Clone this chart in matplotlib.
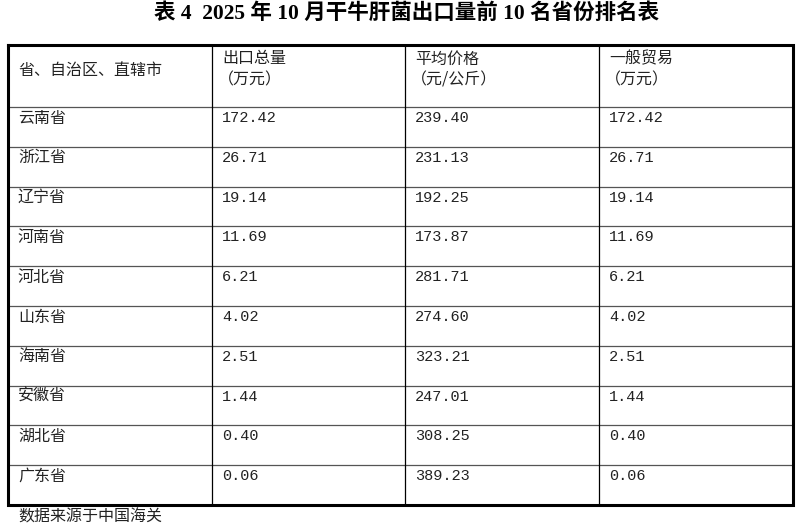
import matplotlib.pyplot as plt

plt.rcParams['font.family'] = ['Noto Sans CJK SC', 'DejaVu Sans']

# 数据
titulo = '表 4  2025 年 10 月干牛肝菌出口量前 10 名省份排名表'
cabecalhos = ['省、自治区、直辖市', '出口总量\n（万元）', '平均价格\n（元/公斤）', '一般贸易\n（万元）']
provincias = ['云南省', '浙江省', '辽宁省', '河南省', '河北省', '山东省', '海南省', '安徽省', '湖北省', '广东省']
total = ['172.42', '26.71', '19.14', '11.69', '6.21', '4.02', '2.51', '1.44', '0.40', '0.06']
preco = ['239.40', '231.13', '192.25', '173.87', '281.71', '274.60', '323.21', '247.01', '308.25', '389.23']
comercio = ['172.42', '26.71', '19.14', '11.69', '6.21', '4.02', '2.51', '1.44', '0.40', '0.06']
fonte = '数据来源于中国海关'

# Geometria da tabela (pixels)
W, H = 801, 527
x_cols = [8, 212, 405, 599, 793]
y_topo, y_cab = 45, 107
alt_linha = (505 - y_cab) / len(provincias)

fonte_cjk = ['Noto Sans CJK SC', 'DejaVu Sans']
fonte_num = ['Liberation Mono', 'Noto Sans CJK SC']
tam = 11.5

fig = plt.figure(figsize=(W / 100, H / 100), dpi=100)
ax = fig.add_axes([0, 0, 1, 1])
ax.set_xlim(0, W)
ax.set_ylim(H, 0)
ax.axis('off')

y_linhas = [y_cab + i * alt_linha for i in range(len(provincias) + 1)]
y_fim = y_linhas[-1]

# Linhas internas
for y in y_linhas[:-1]:
    ax.plot([x_cols[0], x_cols[-1]], [y, y], color='#555555', lw=0.9)
for x in x_cols[1:-1]:
    ax.plot([x, x], [y_topo, y_fim], color='black', lw=0.9)
# Moldura externa
ax.plot([x_cols[0], x_cols[-1], x_cols[-1], x_cols[0], x_cols[0]],
        [y_topo, y_topo, y_fim, y_fim, y_topo], color='black', lw=2.2,
        solid_joinstyle='miter')

# Título
ax.text(W / 2 + 6, 14, titulo, ha='center', va='center', fontsize=15.5,
        fontweight='bold', family=['Liberation Serif', 'Noto Sans CJK SC'])

# Cabeçalho
for i, txt in enumerate(cabecalhos):
    if i == 0:
        ax.text(x_cols[i] + 10, 70, txt, ha='left', va='center', fontsize=tam,
                family=fonte_cjk, color='#222222')
    else:
        l1, l2 = txt.split('\n')
        ax.text(x_cols[i] + 10, 59, l1, ha='left', va='center', fontsize=tam,
                family=fonte_cjk, color='#222222')
        ax.text(x_cols[i] + 6, 80, l2, ha='left', va='center', fontsize=tam,
                family=fonte_cjk, color='#222222')

# Linhas de dados
for j in range(len(provincias)):
    y = y_linhas[j] + 11
    ax.text(x_cols[0] + 10, y, provincias[j], ha='left', va='center',
            fontsize=tam, family=fonte_cjk, color='#222222')
    for i, v in enumerate([total[j], preco[j], comercio[j]], start=1):
        ax.text(x_cols[i] + 10, y, v, ha='left', va='center', fontsize=11,
                family=fonte_num, color='#222222')

ax.text(18, 517, fonte, ha='left', va='center', fontsize=tam,
        family=fonte_cjk, color='#222222')

fig.savefig('out.png', dpi=100)
